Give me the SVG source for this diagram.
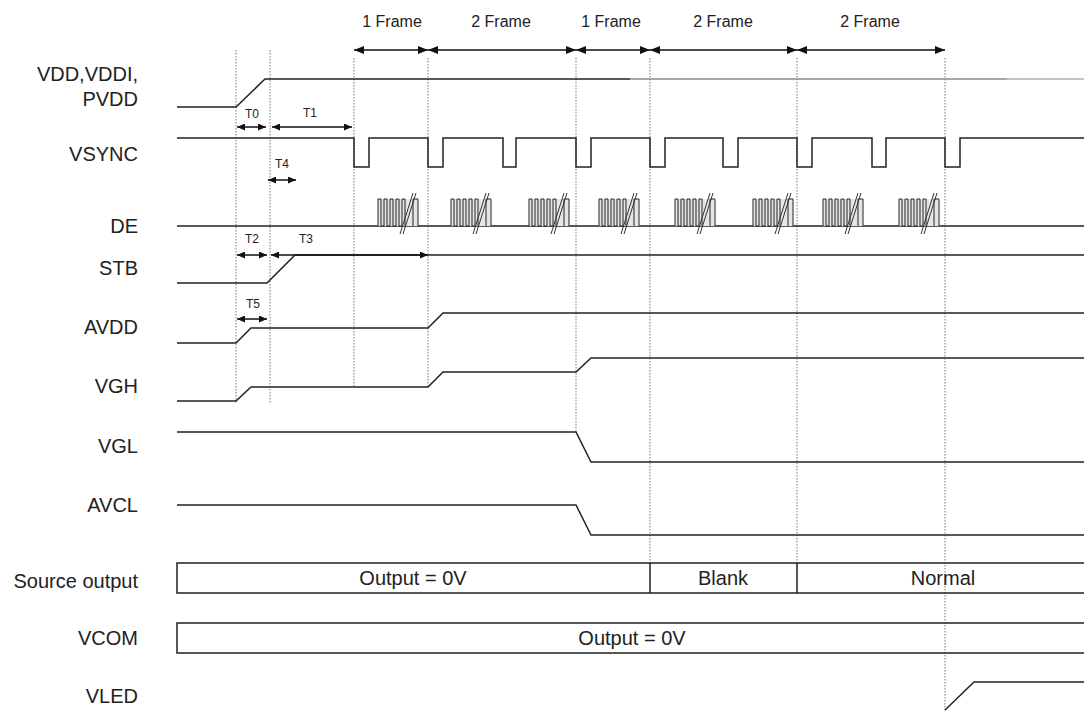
<svg xmlns="http://www.w3.org/2000/svg" width="1084" height="711" viewBox="0 0 1084 711">
<style>
.lbl{font-family:"Liberation Sans",Arial,sans-serif;font-size:20px;fill:#222;text-anchor:end}
.fr{font-family:"Liberation Sans",Arial,sans-serif;font-size:16px;fill:#222;text-anchor:middle}
.t{font-family:"Liberation Sans",Arial,sans-serif;font-size:12px;fill:#222;text-anchor:middle}
.box{font-family:"Liberation Sans",Arial,sans-serif;font-size:20px;fill:#222;text-anchor:middle}
.sig{fill:none;stroke:#222;stroke-width:1.5}
.dot{fill:none;stroke:#777;stroke-width:1;stroke-dasharray:1.5 1.5}
.arr{fill:none;stroke:#111;stroke-width:1.5}
</style>
<defs>
<marker id="ah" viewBox="0 0 10 8" refX="10" refY="4" markerWidth="10" markerHeight="8" markerUnits="userSpaceOnUse" orient="auto-start-reverse"><path d="M0,0 L10,4 L0,8 z" fill="#111"/></marker>
<marker id="ahs" viewBox="0 0 8 7" refX="8" refY="3.5" markerWidth="8" markerHeight="7" markerUnits="userSpaceOnUse" orient="auto-start-reverse"><path d="M0,0 L8,3.5 L0,7 z" fill="#111"/></marker>
<g id="burst">
<rect x="0" y="199" width="40" height="27" fill="#e6e6e6"/>
<path d="M0,226 V199 H3 V226 H6 V199 H9 V226 H12 V199 H15 V226 H18 V199 H21 V226 H24 V199 H27 V226 M35,226 V199 H40 V226" fill="none" stroke="#222" stroke-width="1"/>
<path d="M22,234 L35,193 M25,234 L38,193" fill="none" stroke="#333" stroke-width="1"/>
</g>
</defs>
<rect width="1084" height="711" fill="#fff"/>

<g id="gridlines">
<path class="dot" d="M236,50 V403 M270,50 V403 M354,58 V387 M428,58 V387 M576,58 V432 M650,58 V563 M797,58 V563 M945,58 V711"/>
</g>

<g id="labels">
<text class="lbl" x="138" y="81">VDD,VDDI,</text>
<text class="lbl" x="138" y="106">PVDD</text>
<text class="lbl" x="138" y="161">VSYNC</text>
<text class="lbl" x="138" y="233">DE</text>
<text class="lbl" x="138" y="275">STB</text>
<text class="lbl" x="138" y="334">AVDD</text>
<text class="lbl" x="138" y="393">VGH</text>
<text class="lbl" x="138" y="453">VGL</text>
<text class="lbl" x="138" y="512">AVCL</text>
<text class="lbl" x="138" y="588">Source output</text>
<text class="lbl" x="138" y="645">VCOM</text>
<text class="lbl" x="138" y="703">VLED</text>
</g>

<g id="vdd">
<path class="sig" d="M177,107 H236 L265,79 H630"/>
<path d="M630,79 H1007" fill="none" stroke="#8a8a8a" stroke-width="1.5"/>
<path d="M1007,79 H1084" fill="none" stroke="#b0b0b0" stroke-width="1.5"/>
</g>

<g id="vsync">
<path class="sig" d="M177,138 H354 V167 H369 V138 H428 V167 H443 V138 H503 V167 H516 V138 H576 V167 H591 V138 H650 V167 H665 V138 H723 V167 H738 V138 H797 V167 H812 V138 H872 V167 H886 V138 H945 V167 H960 V138 H1084"/>
</g>

<g id="de">
<path class="sig" d="M177,226 H1084"/>
<use href="#burst" x="378"/>
<use href="#burst" x="451"/>
<use href="#burst" x="529"/>
<use href="#burst" x="599"/>
<use href="#burst" x="675"/>
<use href="#burst" x="753"/>
<use href="#burst" x="823"/>
<use href="#burst" x="899"/>
</g>

<g id="stb">
<path class="sig" d="M177,283 H267 L295,255 H1084"/>
</g>

<g id="avdd">
<path class="sig" d="M177,343 H236 L251,328 H428 L443,313 H1084"/>
</g>

<g id="vgh">
<path class="sig" d="M177,401 H236 L251,387 H428 L443,372 H576 L591,358 H1084"/>
</g>

<g id="vgl">
<path class="sig" d="M177,432 H576 L591,462 H1084"/>
</g>

<g id="avcl">
<path class="sig" d="M177,505 H576 L591,535 H1084"/>
</g>

<g id="source-output">
<path class="sig" d="M1084,563 H177 V593 H1084 M650,563 V593 M797,563 V593"/>
<text class="box" x="413" y="585">Output = 0V</text>
<text class="box" x="723" y="585">Blank</text>
<text class="box" x="943" y="585">Normal</text>
</g>

<g id="vcom">
<path class="sig" d="M1084,623 H177 V653 H1084"/>
<text class="box" x="632" y="645">Output = 0V</text>
</g>

<g id="vled">
<path class="sig" d="M945,710 L974,682 H1084"/>
</g>

<g id="connectors">
<path class="arr" marker-start="url(#ah)" marker-end="url(#ah)" d="M354,50 H428"/>
<path class="arr" marker-start="url(#ah)" marker-end="url(#ah)" d="M428,50 H576"/>
<path class="arr" marker-start="url(#ah)" marker-end="url(#ah)" d="M576,50 H650"/>
<path class="arr" marker-start="url(#ah)" marker-end="url(#ah)" d="M650,50 H797"/>
<path class="arr" marker-start="url(#ah)" marker-end="url(#ah)" d="M797,50 H945"/>
<path class="arr" marker-start="url(#ahs)" marker-end="url(#ahs)" d="M237,127 H266"/>
<path class="arr" marker-start="url(#ahs)" marker-end="url(#ahs)" d="M272,127 H352"/>
<path class="arr" marker-start="url(#ahs)" marker-end="url(#ahs)" d="M268,180 H296"/>
<path class="arr" marker-start="url(#ahs)" marker-end="url(#ahs)" d="M237,255 H267"/>
<path class="arr" marker-start="url(#ahs)" marker-end="url(#ahs)" d="M271,255 H428"/>
<path class="arr" marker-start="url(#ahs)" marker-end="url(#ahs)" d="M237,319 H267"/>
</g>

<g id="annotations">
<text class="fr" x="392" y="27">1 Frame</text>
<text class="fr" x="501" y="27">2 Frame</text>
<text class="fr" x="611" y="27">1 Frame</text>
<text class="fr" x="723" y="27">2 Frame</text>
<text class="fr" x="870" y="27">2 Frame</text>
<text class="t" x="252" y="118">T0</text>
<text class="t" x="310" y="117">T1</text>
<text class="t" x="282" y="168">T4</text>
<text class="t" x="252" y="243">T2</text>
<text class="t" x="306" y="243">T3</text>
<text class="t" x="253" y="308">T5</text>
</g>
</svg>
